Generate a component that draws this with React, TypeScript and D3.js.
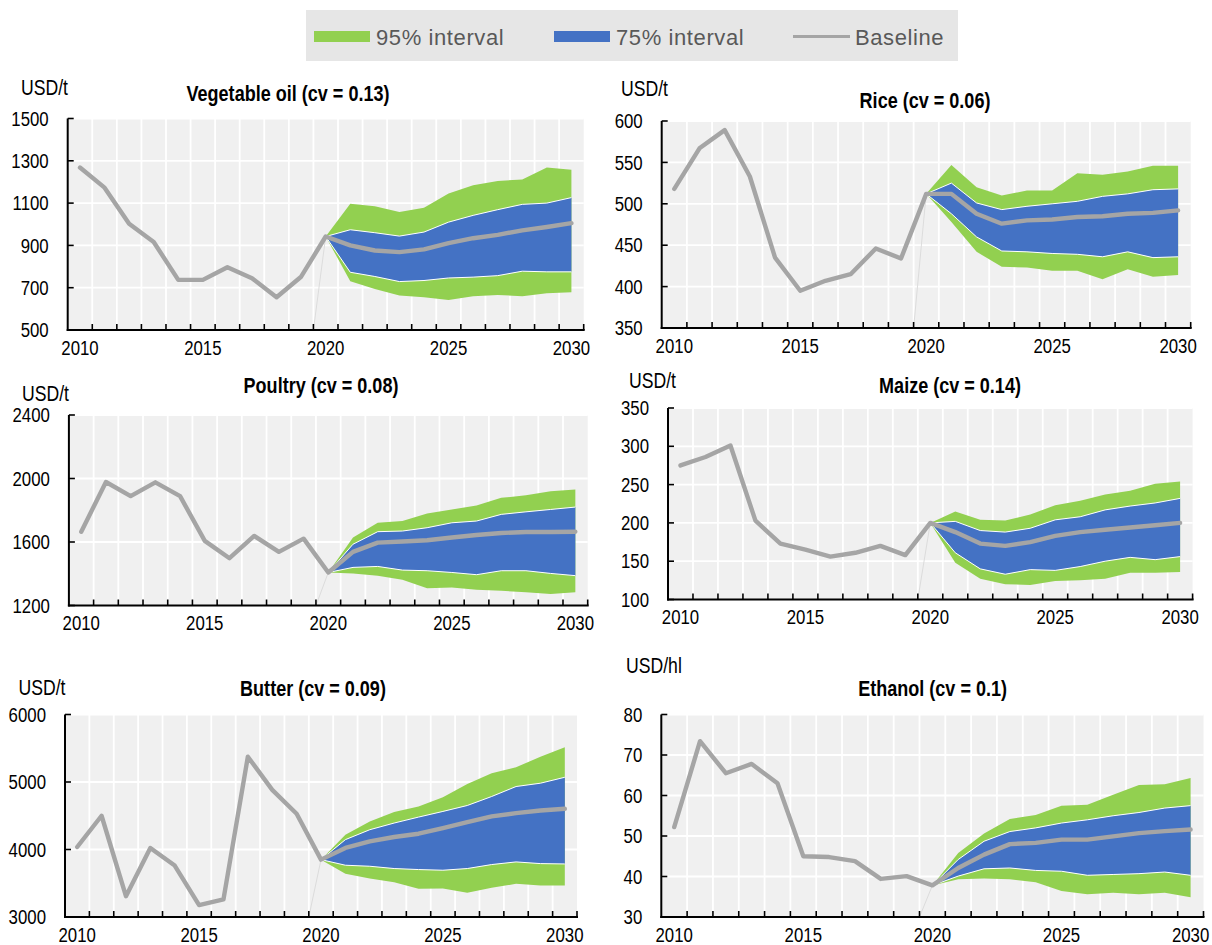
import * as d3 from 'd3';
import React from 'react';

const years = d3.range(2010, 2031);
const projYears = d3.range(2020, 2031);
const xTickYears = [2010, 2015, 2020, 2025, 2030];

// Vegetable oil, USD/t (baseline 2010-2030, bands 2021-2030)
const vegOilBaseline = [1268, 1173, 1002, 916, 737, 737, 797, 745, 655, 752, 942, 900, 876, 868, 881, 911, 934, 950, 971, 987, 1005];
const vegOilHi75 = [974, 960, 944, 963, 1010, 1042, 1069, 1094, 1100, 1126];
const vegOilLo75 = [773, 753, 729, 734, 746, 750, 757, 778, 775, 775];
const vegOilHi95 = [1097, 1085, 1058, 1078, 1145, 1184, 1205, 1212, 1268, 1258];
const vegOilLo95 = [731, 694, 663, 655, 642, 660, 666, 660, 674, 679];
const vegOilTicks = [500, 700, 900, 1100, 1300, 1500];

// Rice, USD/t
const riceBaseline = [518, 567, 589, 533, 435, 395, 407, 415, 446, 434, 512, 512, 488, 476, 480, 481, 484, 485, 488, 489, 492];
const riceHi75 = [525, 501, 493, 497, 500, 503, 509, 512, 517, 518];
const riceLo75 = [488, 460, 443, 442, 440, 439, 436, 442, 435, 436];
const riceHi95 = [547, 520, 510, 516, 516, 537, 535, 539, 546, 546];
const riceLo95 = [478, 442, 424, 423, 419, 419, 409, 421, 412, 414];
const riceTicks = [350, 400, 450, 500, 550, 600];

// Poultry, USD/t
const poultryBaseline = [1665, 1978, 1889, 1976, 1889, 1607, 1498, 1638, 1538, 1621, 1408, 1538, 1596, 1603, 1611, 1628, 1644, 1657, 1663, 1663, 1665];
const poultryHi75 = [1586, 1665, 1669, 1690, 1721, 1732, 1774, 1790, 1805, 1820];
const poultryLo75 = [1440, 1446, 1423, 1419, 1408, 1394, 1419, 1419, 1402, 1388];
const poultryHi95 = [1628, 1721, 1732, 1780, 1805, 1830, 1878, 1895, 1920, 1930];
const poultryLo95 = [1402, 1388, 1362, 1308, 1314, 1300, 1293, 1283, 1273, 1283];
const poultryTicks = [1200, 1600, 2000, 2400];

// Maize, USD/t
const maizeBaseline = [275, 286, 301, 203, 173, 165, 156, 161, 170, 158, 200, 188, 173, 170, 175, 183, 188, 191, 194, 197, 200];
const maizeHi75 = [202, 190, 188, 193, 204, 208, 217, 222, 226, 232];
const maizeLo75 = [161, 140, 133, 139, 138, 143, 150, 155, 152, 156];
const maizeHi95 = [215, 204, 203, 211, 223, 229, 237, 242, 251, 254];
const maizeLo95 = [148, 127, 120, 119, 124, 125, 127, 135, 135, 136];
const maizeTicks = [100, 150, 200, 250, 300, 350];

// Butter, USD/t
const butterBaseline = [4037, 4500, 3309, 4023, 3762, 3177, 3260, 5375, 4883, 4529, 3850, 4023, 4121, 4185, 4234, 4318, 4406, 4490, 4539, 4578, 4603];
const butterHi75 = [4146, 4293, 4392, 4480, 4564, 4652, 4785, 4933, 4982, 5070];
const butterLo75 = [3767, 3752, 3718, 3703, 3693, 3718, 3777, 3816, 3791, 3786];
const butterHi95 = [4219, 4416, 4554, 4637, 4775, 4972, 5129, 5218, 5375, 5513];
const butterLo95 = [3639, 3570, 3516, 3418, 3423, 3359, 3432, 3491, 3467, 3467];
const butterTicks = [3000, 4000, 5000, 6000];

// Ethanol, USD/hl
const ethanolBaseline = [52.2, 73.4, 65.5, 67.8, 63.0, 45.0, 44.8, 43.8, 39.4, 40.1, 37.8, 42.1, 45.4, 48.0, 48.3, 49.1, 49.1, 49.9, 50.7, 51.2, 51.6];
const ethanolHi75 = [44.2, 48.7, 51.1, 52.0, 53.2, 54.0, 55.0, 55.8, 56.9, 57.5];
const ethanolLo75 = [40.1, 41.9, 42.1, 41.5, 41.3, 40.3, 40.5, 40.7, 41.1, 40.3];
const ethanolHi95 = [45.8, 50.6, 54.2, 55.2, 57.5, 57.7, 60.2, 62.6, 62.8, 64.3];
const ethanolLo95 = [39.3, 39.5, 39.3, 38.6, 36.4, 35.6, 36.0, 35.6, 36.0, 34.9];
const ethanolTicks = [30, 40, 50, 60, 70, 80];

const GREEN = '#92d050';
const BLUE = '#4472c4';
const GREY_LINE = '#a5a5a5';
// no Arial Narrow here, so squeeze Liberation Sans (Arial metrics) horizontally
const FONT = "'Liberation Sans', Arial, sans-serif";
const NARROW = 0.82;

type PanelDef = {
  title: string;
  unit: string;
  base: number[];
  hi75: number[];
  lo75: number[];
  hi95: number[];
  lo95: number[];
  ticks: number[];
  box: { x0: number; x1: number; y0: number; y1: number };
  titlePos: [number, number];
  unitPos: [number, number];
};

const panels: PanelDef[] = [
  {
    title: 'Vegetable oil (cv = 0.13)', unit: 'USD/t',
    base: vegOilBaseline, hi75: vegOilHi75, lo75: vegOilLo75, hi95: vegOilHi95, lo95: vegOilLo95, ticks: vegOilTicks,
    box: { x0: 67.7, x1: 583.7, y0: 118.5, y1: 330 }, titlePos: [288, 93], unitPos: [21, 87],
  },
  {
    title: 'Rice (cv = 0.06)', unit: 'USD/t',
    base: riceBaseline, hi75: riceHi75, lo75: riceLo75, hi95: riceHi95, lo95: riceLo95, ticks: riceTicks,
    box: { x0: 661.7, x1: 1190.7, y0: 121, y1: 328 }, titlePos: [925, 100], unitPos: [621, 88],
  },
  {
    title: 'Poultry (cv = 0.08)', unit: 'USD/t',
    base: poultryBaseline, hi75: poultryHi75, lo75: poultryLo75, hi95: poultryHi95, lo95: poultryLo95, ticks: poultryTicks,
    box: { x0: 68.9, x1: 587.7, y0: 415, y1: 605.5 }, titlePos: [321, 385], unitPos: [22, 393],
  },
  {
    title: 'Maize (cv = 0.14)', unit: 'USD/t',
    base: maizeBaseline, hi75: maizeHi75, lo75: maizeLo75, hi95: maizeHi95, lo95: maizeLo95, ticks: maizeTicks,
    box: { x0: 668, x1: 1192.6, y0: 408, y1: 599.5 }, titlePos: [950, 385], unitPos: [629, 380],
  },
  {
    title: 'Butter (cv = 0.09)', unit: 'USD/t',
    base: butterBaseline, hi75: butterHi75, lo75: butterLo75, hi95: butterHi95, lo95: butterLo95, ticks: butterTicks,
    box: { x0: 65, x1: 577, y0: 714.5, y1: 917 }, titlePos: [313, 688], unitPos: [18.5, 687],
  },
  {
    title: 'Ethanol (cv = 0.1)', unit: 'USD/hl',
    base: ethanolBaseline, hi75: ethanolHi75, lo75: ethanolLo75, hi95: ethanolHi95, lo95: ethanolLo95, ticks: ethanolTicks,
    box: { x0: 661.3, x1: 1203.5, y0: 714.5, y1: 917 }, titlePos: [932.6, 688], unitPos: [626, 665],
  },
];

function NText({
  x,
  y,
  size,
  anchor = 'start',
  bold = false,
  children,
}: {
  x: number;
  y: number;
  size: number;
  anchor?: 'start' | 'middle' | 'end';
  bold?: boolean;
  children: React.ReactNode;
}) {
  return (
    <text
      transform={`translate(${x},${y}) scale(${NARROW},1)`}
      textAnchor={anchor}
      dominantBaseline="central"
      fontSize={size}
      fontWeight={bold ? 'bold' : 'normal'}
      fontFamily={FONT}
      fill="#000"
    >
      {children}
    </text>
  );
}

type BandPt = { yr: number; lo: number; hi: number };

function Panel({ p }: { p: PanelDef }) {
  const { x0, x1, y0, y1 } = p.box;
  const x = d3.scaleBand<number>().domain(years).range([x0, x1]);
  const bw = x.bandwidth();
  const cx = (yr: number) => (x(yr) ?? 0) + bw / 2;
  const y = d3
    .scaleLinear()
    .domain([p.ticks[0], p.ticks[p.ticks.length - 1]])
    .range([y1, y0]);

  const start = p.base[10];
  const band = (lo: number[], hi: number[]): BandPt[] =>
    projYears.map((yr, i) => ({
      yr,
      lo: i === 0 ? start : lo[i - 1],
      hi: i === 0 ? start : hi[i - 1],
    }));
  const b95 = band(p.lo95, p.hi95);
  const b75 = band(p.lo75, p.hi75);

  const area = d3
    .area<BandPt>()
    .x(d => cx(d.yr))
    .y0(d => y(d.lo))
    .y1(d => y(d.hi));
  const edgeHi = d3.line<BandPt>().x(d => cx(d.yr)).y(d => y(d.hi));
  const edgeLo = d3.line<BandPt>().x(d => cx(d.yr)).y(d => y(d.lo));
  const baseLine = d3
    .line<number>()
    .x((d, i) => cx(years[i]))
    .y(d => y(d));

  const boundaries = d3.range(1, years.length + 1).map(i => x0 + i * bw);

  return (
    <g>
      <rect x={x0} y={y0} width={x1 - x0} height={y1 - y0} fill="#f0f0f0" />
      {boundaries.slice(0, -1).map((bx, i) => (
        <line key={'v' + i} x1={bx} x2={bx} y1={y0} y2={y1} stroke="#fff" strokeWidth={1.8} />
      ))}
      {p.ticks.slice(1).map(t => (
        <line key={'h' + t} x1={x0} x2={x1} y1={y(t)} y2={y(t)} stroke="#fff" strokeWidth={1.8} />
      ))}
      <path d={area(b95) ?? ''} fill={GREEN} />
      <path d={area(b75) ?? ''} fill={BLUE} />
      <path d={edgeHi(b75) ?? ''} fill="none" stroke="#fff" strokeWidth={1} />
      <path d={edgeLo(b75) ?? ''} fill="none" stroke="#fff" strokeWidth={1} />
      <line x1={x(2020) ?? 0} y1={y1} x2={cx(2020)} y2={y(start)} stroke="#dcdcdc" strokeWidth={1} />
      <path
        d={baseLine(p.base) ?? ''}
        fill="none"
        stroke={GREY_LINE}
        strokeWidth={4.4}
        strokeLinejoin="round"
        strokeLinecap="round"
      />
      {/* axes */}
      <line x1={x0} x2={x0} y1={y0} y2={y1 + 1} stroke="#000" strokeWidth={2} />
      <line x1={x0 - 1} x2={x1 + 1} y1={y1} y2={y1} stroke="#000" strokeWidth={2} />
      {boundaries.map((bx, i) => (
        <line key={'t' + i} x1={bx} x2={bx} y1={y1} y2={y1 - 6} stroke="#000" strokeWidth={1.6} />
      ))}
      {p.ticks.map(t => (
        <line key={'yt' + t} x1={x0} x2={x0 + 6} y1={y(t)} y2={y(t)} stroke="#000" strokeWidth={1.6} />
      ))}
      {p.ticks.map(t => (
        <NText key={'yl' + t} x={x0 - 19} y={y(t)} size={20.5} anchor="end">
          {t}
        </NText>
      ))}
      {xTickYears.map(yr => (
        <NText key={'xl' + yr} x={cx(yr)} y={y1 + 17.5} size={20.5} anchor="middle">
          {yr}
        </NText>
      ))}
      <NText x={p.titlePos[0]} y={p.titlePos[1]} size={22} anchor="middle" bold>
        {p.title}
      </NText>
      <NText x={p.unitPos[0]} y={p.unitPos[1]} size={21.5}>
        {p.unit}
      </NText>
    </g>
  );
}

const legendItems = [
  { label: '95% interval', kind: 'rect', color: GREEN, x: 314 },
  { label: '75% interval', kind: 'rect', color: BLUE, x: 554 },
  { label: 'Baseline', kind: 'line', color: GREY_LINE, x: 793 },
];

export default function App() {
  return (
    <svg
      width={1212}
      height={945}
      style={{ position: 'absolute', left: 0, top: 0, background: '#fff' }}
    >
      <rect x={306} y={10} width={652} height={51} fill="#e6e6e6" />
      {legendItems.map(it => (
        <g key={it.label}>
          {it.kind === 'rect' ? (
            <rect x={it.x} y={31} width={56} height={11} fill={it.color} />
          ) : (
            <line x1={it.x} x2={it.x + 57} y1={36.5} y2={36.5} stroke={it.color} strokeWidth={3} />
          )}
          <text
            x={it.x + 62}
            y={37}
            dominantBaseline="central"
            fontSize={22}
            letterSpacing={0.6}
            fontFamily={FONT}
            fill="#595959"
          >
            {it.label}
          </text>
        </g>
      ))}
      {panels.map(p => (
        <Panel key={p.title} p={p} />
      ))}
    </svg>
  );
}
